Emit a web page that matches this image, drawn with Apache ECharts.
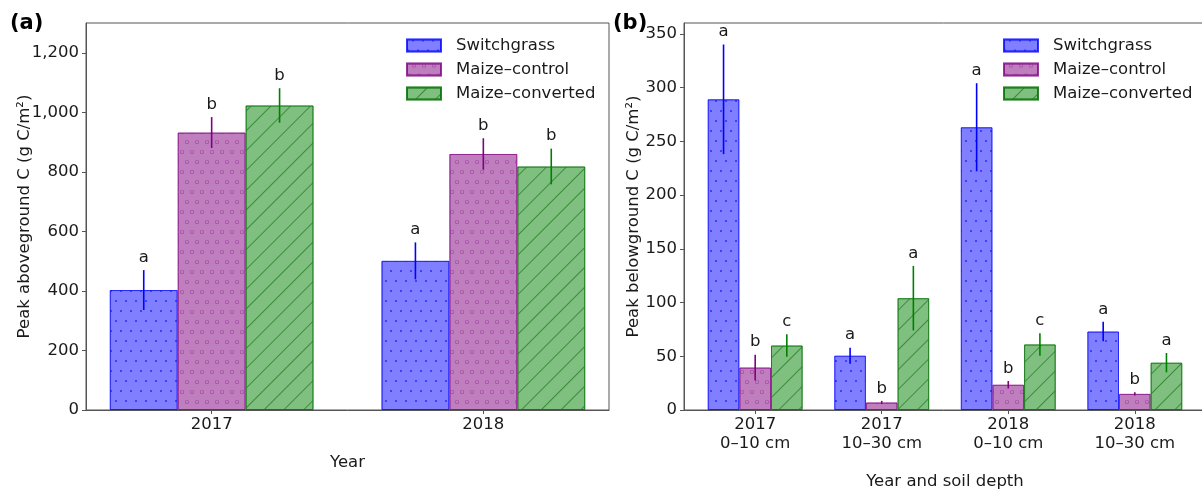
<!DOCTYPE html>
<html>
<head>
<meta charset="utf-8">
<script src="https://cdn.jsdelivr.net/npm/echarts@6/dist/echarts.min.js"></script>
<style>
  html, body { margin: 0; padding: 0; background: #fff; }
  #chart { width: 1202px; height: 490px; }
</style>
</head>
<body>
<div id="chart"></div>
<script>
// (a) peak aboveground C, g C/m2
const yearsA = ['2017', '2018'];
const switchgrassA = [403, 501];
const switchgrassErrA = [67, 62];
const maizeControlA = [932, 860];
const maizeControlErrA = [52, 53];
const maizeConvertedA = [1023, 818];
const maizeConvertedErrA = [58, 60];
const switchgrassLetA = ['a', 'a'];
const maizeControlLetA = ['b', 'b'];
const maizeConvertedLetA = ['b', 'b'];
const yTicksA = [0, 200, 400, 600, 800, 1000, 1200];

// (b) peak belowground C, g C/m2
const depthsB = ['2017\n0–10 cm', '2017\n10–30 cm', '2018\n0–10 cm', '2018\n10–30 cm'];
const switchgrassB = [289, 50.5, 263, 73];
const switchgrassErrB = [51, 7.5, 41, 9];
const maizeControlB = [39.5, 7, 23.5, 15];
const maizeControlErrB = [12, 1.5, 3.5, 1.5];
const maizeConvertedB = [60, 104, 61, 44];
const maizeConvertedErrB = [10.5, 30, 10.5, 9];
const switchgrassLetB = ['a', 'a', 'a', 'a'];
const maizeControlLetB = ['b', 'b', 'b', 'b'];
const maizeConvertedLetB = ['c', 'a', 'c', 'a'];
const yTicksB = [0, 50, 100, 150, 200, 250, 300, 350];

const FONT = 'DejaVu Sans';
const FS = 16.5;
const TXT = '#1a1a1a';
const AX = '#555';
const BAR_W = 0.25;

const ring = 'path://M0,-5A5,5,0,1,1,0,5A5,5,0,1,1,0,-5ZM0,-3.6A3.6,3.6,0,1,0,0,3.6A3.6,3.6,0,1,0,0,-3.6Z';

const treatments = [
  {
    name: 'Switchgrass', offset: -BAR_W,
    fill: 'rgba(0,0,255,0.5)', edge: 'rgba(0,0,255,0.55)', err: '#0000ff',
    decal: { symbol: 'circle', symbolSize: 1, color: '#2a2aff',
      dashArrayX: [[2, 8], [0, 5, 2, 3]], dashArrayY: [2, 8] }
  },
  {
    name: 'Maize–control', offset: 0,
    fill: 'rgba(128,0,128,0.5)', edge: 'rgba(128,0,128,0.55)', err: '#800080',
    decal: { symbol: ring, symbolSize: 1, color: '#9c3c9c',
      dashArrayX: [[4, 6], [0, 5, 4, 1]], dashArrayY: [4, 6] }
  },
  {
    name: 'Maize–converted', offset: BAR_W,
    fill: 'rgba(0,128,0,0.5)', edge: 'rgba(0,110,0,0.6)', err: '#008000',
    decal: { symbol: 'rect', symbolSize: 1, color: '#3b8d3b',
      dashArrayX: [1, 0], dashArrayY: [1, 13], rotation: -Math.PI / 4 }
  }
];

const panels = [
  {
    left: 86, width: 523, xMin: -0.4625, xMax: 1.4625, yMax: 1300,
    cats: yearsA, yTicks: yTicksA, xName: 'Year', xNameGap: 44,
    yName: 'Peak aboveground C (g C/m²)', yNameGap: 53,
    fmt: v => v.toLocaleString('en-US'),
    vals: [switchgrassA, maizeControlA, maizeConvertedA],
    errs: [switchgrassErrA, maizeControlErrA, maizeConvertedErrA],
    lets: [switchgrassLetA, maizeControlLetA, maizeConvertedLetA],
    legendLeft: 406
  },
  {
    left: 684, width: 522, xMin: -0.5625, xMax: 3.5625, yMax: 360,
    cats: depthsB, yTicks: yTicksB, xName: 'Year and soil depth', xNameGap: 63,
    yName: 'Peak belowground C (g C/m²)', yNameGap: 42,
    fmt: v => String(v),
    vals: [switchgrassB, maizeControlB, maizeConvertedB],
    errs: [switchgrassErrB, maizeControlErrB, maizeConvertedErrB],
    lets: [switchgrassLetB, maizeControlLetB, maizeConvertedLetB],
    legendLeft: 1003
  }
];

const grids = [], xAxes = [], yAxes = [], series = [], legends = [];

panels.forEach((p, gi) => {
  grids.push({
    left: p.left, top: 23, width: p.width, height: 387,
    outerBoundsMode: 'none', containLabel: false,
    show: true, borderColor: AX, borderWidth: 1, backgroundColor: 'transparent'
  });
  const catIdx = p.cats.map((c, i) => i);
  xAxes.push({
    gridIndex: gi, type: 'value', min: p.xMin, max: p.xMax,
    name: p.xName, nameLocation: 'middle', nameGap: p.xNameGap, nameMoveOverlap: false,
    nameTextStyle: { fontFamily: FONT, fontSize: FS, color: TXT },
    axisLine: { onZero: false, lineStyle: { color: AX } },
    axisTick: { show: true, length: 4, lineStyle: { color: AX }, customValues: catIdx },
    axisLabel: {
      customValues: catIdx, margin: 5,
      fontFamily: FONT, fontSize: FS, color: TXT, lineHeight: 19,
      formatter: v => p.cats[Math.round(v)]
    },
    splitLine: { show: false }
  });
  yAxes.push({
    gridIndex: gi, type: 'value', min: 0, max: p.yMax,
    name: p.yName, nameLocation: 'middle', nameGap: p.yNameGap, nameRotate: 90,
    nameMoveOverlap: false,
    nameTextStyle: { fontFamily: FONT, fontSize: FS, color: TXT },
    axisLine: { show: true, onZero: false, lineStyle: { color: AX } },
    axisTick: { show: true, length: 4, lineStyle: { color: AX }, customValues: p.yTicks },
    axisLabel: {
      customValues: p.yTicks, margin: 7,
      fontFamily: FONT, fontSize: FS, color: TXT, formatter: p.fmt
    },
    splitLine: { show: false }
  });

  const barPx = BAR_W * p.width / (p.xMax - p.xMin);

  treatments.forEach((t, ti) => {
    const vals = p.vals[ti], errs = p.errs[ti], lets = p.lets[ti];
    series.push({
      type: 'bar', name: t.name, xAxisIndex: gi, yAxisIndex: gi,
      barWidth: barPx, barGap: '-100%',
      itemStyle: { color: t.fill, borderColor: t.edge, borderWidth: 1, decal: t.decal },
      emphasis: { disabled: true },
      data: vals.map((v, i) => [i + t.offset, v])
    });
    series.push({
      type: 'custom', name: t.name + ' err', xAxisIndex: gi, yAxisIndex: gi,
      z: 5, silent: true,
      data: vals.map((v, i) => [i + t.offset, v - errs[i], v + errs[i]]),
      renderItem: (params, api) => {
        const lo = api.coord([api.value(0), api.value(1)]);
        const hi = api.coord([api.value(0), api.value(2)]);
        return {
          type: 'group',
          children: [
            { type: 'line', shape: { x1: lo[0], y1: lo[1], x2: hi[0], y2: hi[1] },
              style: { stroke: t.err, lineWidth: 1.6 } },
            { type: 'text', style: {
                text: lets[params.dataIndex], x: hi[0], y: hi[1] - 4,
                align: 'center', verticalAlign: 'bottom',
                font: FS + 'px "' + FONT + '"', fill: TXT } }
          ]
        };
      }
    });
  });

  legends.push({
    data: treatments.map(t => t.name), orient: 'vertical',
    left: p.legendLeft, top: 37, padding: 0, icon: 'rect',
    itemWidth: 34, itemHeight: 12, itemGap: 7, selectedMode: false,
    textStyle: { fontFamily: FONT, fontSize: FS, color: TXT, padding: [0, 0, 0, 10] }
  });
});

const chart = echarts.init(document.getElementById('chart'));
chart.setOption({
  animation: false,
  backgroundColor: '#fff',
  grid: grids,
  xAxis: xAxes,
  yAxis: yAxes,
  legend: legends,
  series: series,
  graphic: [
    { type: 'text', left: 10, top: 13, style: { text: '(a)', font: 'bold 21px "' + FONT + '"', fill: '#000' } },
    { type: 'text', left: 613, top: 13, style: { text: '(b)', font: 'bold 21px "' + FONT + '"', fill: '#000' } }
  ]
});
</script>
</body>
</html>
